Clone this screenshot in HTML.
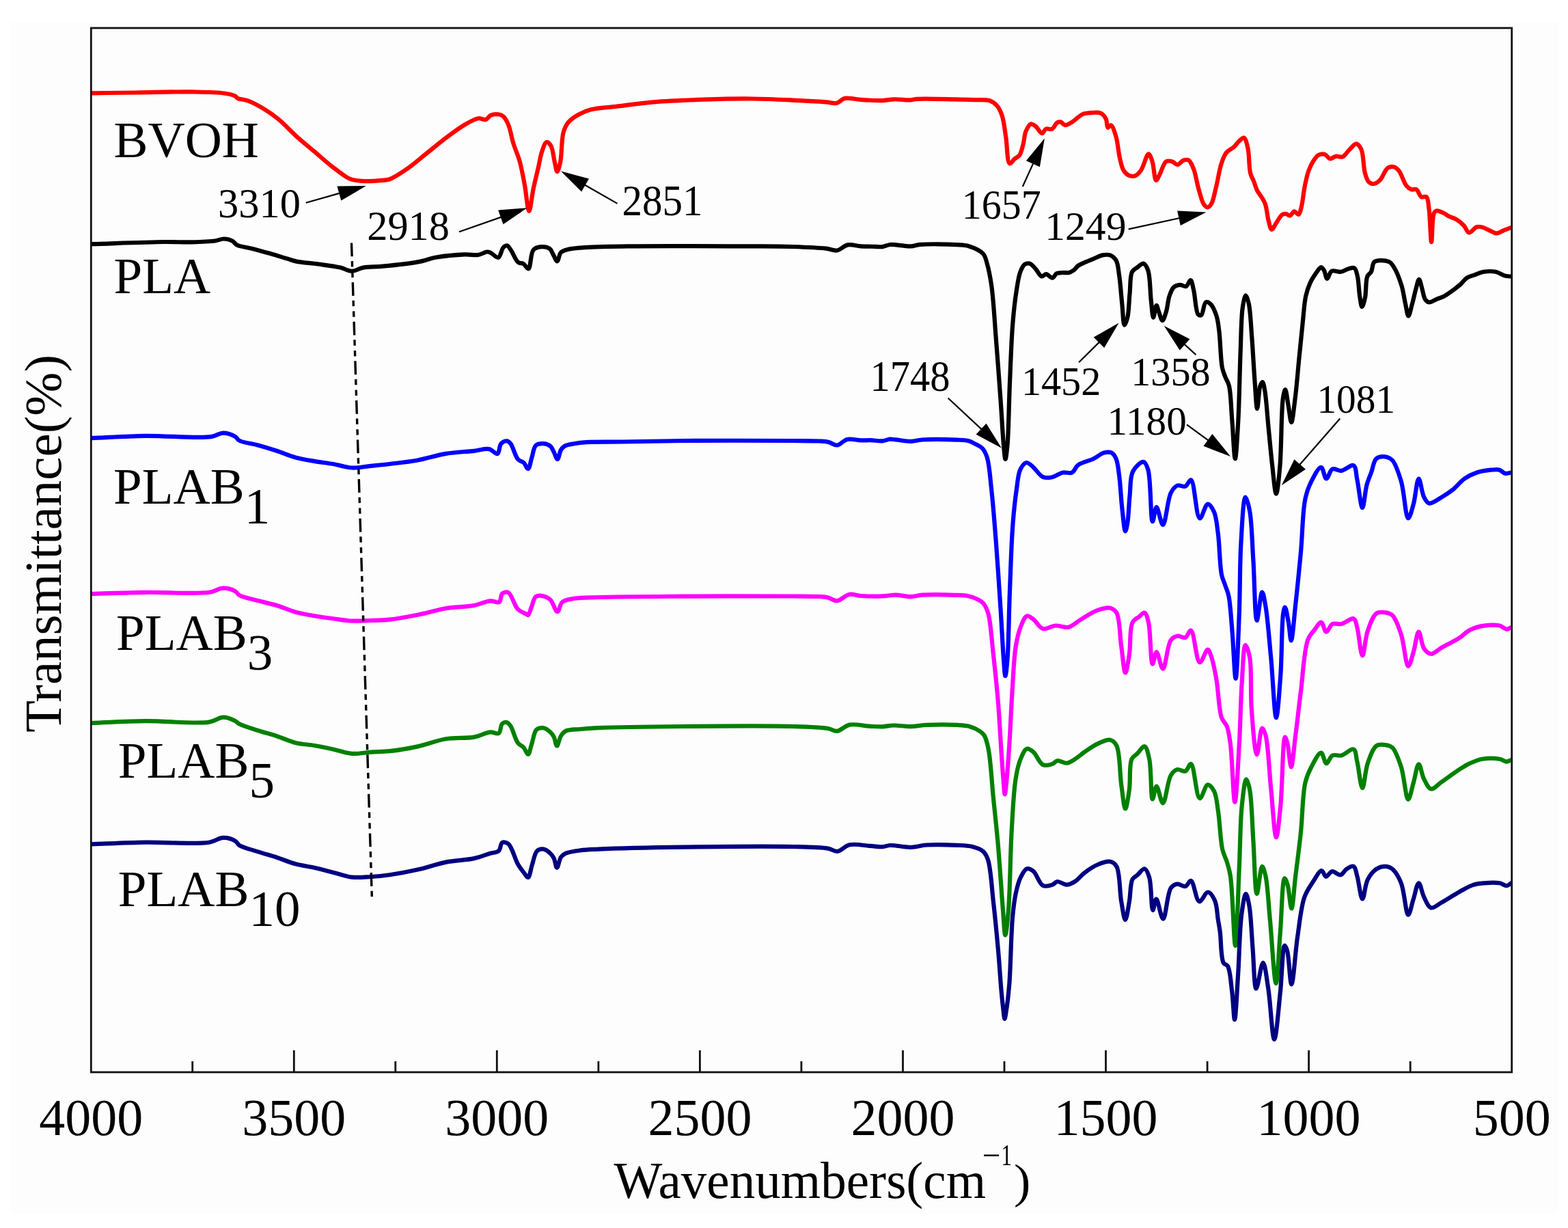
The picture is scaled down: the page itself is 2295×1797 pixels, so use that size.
<!DOCTYPE html><html><head><meta charset="utf-8"><title>FTIR spectra</title><style>html,body{margin:0;padding:0;background:#fff;overflow:hidden;}svg{display:block;}text{font-family:"Liberation Serif","Times New Roman",serif;fill:#000;}</style></head><body>
<svg width="2295" height="1797" viewBox="0 0 2295 1797">
<rect x="0" y="0" width="2295" height="1797" fill="#ffffff"/>
<rect x="16" y="32" width="2265" height="1744" fill="#fdfdfd"/>
<defs><clipPath id="pc"><rect x="133.3" y="41" width="2079.4" height="1528"/></clipPath></defs>
<g fill="none" stroke-width="6.2" stroke-linejoin="round" stroke-linecap="round" clip-path="url(#pc)">
<path d="M133.5,136.3 C155.7,136 176.7,135.8 200,135.5 C225.7,135.2 257.7,134 281,134.4 C298.8,134.7 316.5,134.8 328,136.5 C334.9,137.5 341,138.7 344.2,140.5 C345.9,141.4 345.8,142.8 347.5,143.7 C350.7,145.5 357.6,145.4 363.4,147.6 C371.1,150.5 381.3,156.2 389.1,161.1 C396.2,165.5 401.7,169.6 408.4,175.2 C416.5,182 425.3,191.8 434,199.6 C442.4,207.2 451.1,214.1 459.7,221.4 C468.3,228.7 476.7,236.5 485.4,243.2 C493.8,249.7 503.8,257.9 511,261.2 C515.5,263.3 518.8,263.6 523,264.3 C527.4,265 531.5,265.1 536.7,265.1 C543.4,265.1 553.8,264.4 560,263.8 C564.1,263.4 566.1,263.7 570.2,262.3 C577.3,259.7 588.7,252 597.7,245.8 C607.1,239.3 616,231.1 625.2,223.8 C634.4,216.5 643.4,208.8 652.7,201.8 C661.8,195 671.6,187.5 680.2,182.5 C687.2,178.5 694.3,174 700,173.2 C704.1,172.6 707.9,175.9 711,175 C713.9,174.2 715.4,169.9 718.3,168.6 C721.4,167.2 726,166.8 729.3,167.3 C732.1,167.7 734.5,168.5 736.7,170.4 C739.6,172.9 741.9,177.4 744,182.4 C747.1,189.5 748.6,201 751.4,209.9 C754.1,218.6 757.9,226.2 760.5,235.5 C763.5,246.1 765.6,258.5 767.9,270.4 C770.3,282.9 772.1,308.9 774.3,308.9 C776.4,308.9 778.4,286.8 780.7,276 C783,265.4 785.7,254.4 788,244.7 C790,236.2 791.1,227.5 793.5,220.9 C795.3,215.8 797.5,208.5 800,208 C801.9,207.6 804.7,210.6 806.4,213.5 C809.4,218.4 810.2,230.5 811.9,237.4 C813.2,242.6 814.1,251.1 815.5,251.1 C816.9,251.1 818.8,243.4 820.1,237.4 C822.4,227 821.6,204 824.7,193.4 C826.6,187 828.5,182.9 832,178.7 C835.7,174.3 841.3,170.7 846.7,167.7 C852.3,164.6 857.7,162.2 865,160.3 C875,157.7 888.2,157.4 901.7,155.8 C918.2,153.8 937.1,150.9 956.8,149.3 C979.4,147.4 1005.9,146.5 1030,145.7 C1053.6,144.9 1077.6,144.3 1100,144.5 C1120.8,144.7 1141,145.7 1160,146.6 C1177.2,147.4 1197.1,148.5 1209,149.4 C1215.8,149.9 1220.4,151.9 1225,150.8 C1229,149.8 1231.9,145.3 1235.3,144.2 C1238.1,143.3 1240.3,143.8 1243.5,143.9 C1248.1,144.1 1253.6,145.3 1260,145.8 C1268.8,146.5 1282.9,147.4 1291.7,147.1 C1298,146.9 1302,145.5 1308,145.3 C1315.4,145 1326.6,146.7 1333,146.3 C1337,146.1 1338.1,145.1 1342.6,144.8 C1353.4,144 1382.4,145 1397.6,145.3 C1408.3,145.5 1416.2,145.7 1425,146.1 C1433.1,146.4 1442.4,145.2 1448.5,147.3 C1453.1,148.9 1456.5,151.5 1459.5,155 C1462.8,158.8 1464.8,163.7 1466.8,169.7 C1469.5,178 1470.6,189.9 1472.3,200.9 C1474.2,213 1474.1,238.1 1477.8,239.4 C1479.7,240 1482.4,234.8 1484.8,232.7 C1487.2,230.7 1490.2,229.9 1492.2,227.2 C1494.9,223.4 1496.2,216.4 1497.7,210.7 C1499.3,204.8 1499.3,197.6 1501.4,192.4 C1503.2,188.1 1505.9,182.2 1508.7,181.4 C1510.9,180.8 1513.6,183.2 1516,185 C1519.1,187.3 1522.5,195.1 1525.2,195.1 C1527.3,195.1 1528.3,189.8 1530.7,188.7 C1533.2,187.6 1537.3,190 1539.9,188.7 C1542.9,187.3 1544.6,181 1547.2,179.5 C1549,178.5 1550.9,178.2 1552.7,178.6 C1554.9,179.1 1556.6,183 1559.1,183.2 C1562,183.5 1566,180.5 1569.2,178.6 C1572.5,176.6 1575.5,173.4 1578.4,171.3 C1580.9,169.5 1582.7,167.8 1585.7,166.7 C1589.6,165.3 1595.9,164.9 1600.4,164.8 C1604.3,164.7 1608.3,164.3 1611.4,165.8 C1614.4,167.3 1617,170.7 1618.7,174 C1620.5,177.6 1619.8,186.3 1621.5,186.9 C1622.7,187.3 1624.6,182.8 1626.1,183.2 C1628.7,183.8 1631.4,193.2 1633.4,199.7 C1636,208.3 1636.8,221.9 1638.9,230.9 C1640.6,237.9 1641.7,244.7 1644.4,249.2 C1646.4,252.5 1648.9,255.1 1651.7,256.5 C1654.4,257.8 1658,258.4 1660.9,257.5 C1664.2,256.4 1667.2,253.1 1670,249.2 C1674.1,243.6 1678,225.4 1681.1,225.4 C1683.2,225.4 1685,231.8 1686.6,236.4 C1689,243.4 1689.6,263.5 1692.1,263.9 C1693.7,264.2 1695.6,258.3 1697.6,254.7 C1700.4,249.7 1702.8,238.8 1706.8,236.4 C1709.4,234.8 1713.1,235.6 1715.9,236.4 C1718.6,237.2 1720.7,241.1 1723.3,241 C1726.2,240.9 1729.4,235.5 1732.4,234.5 C1734.9,233.7 1737.6,233.2 1739.8,234.5 C1742.9,236.3 1745,242.1 1747.1,247.4 C1750.1,255 1751.8,267.7 1754.4,276.7 C1756.7,284.6 1758.8,294.3 1761.8,298.7 C1763.5,301.1 1765.5,303.3 1767.3,303.3 C1769.1,303.3 1771.2,301.2 1772.8,298.7 C1776,293.8 1777.8,282.2 1780.1,273.1 C1782.7,262.8 1784.5,249 1787.5,240 C1789.7,233.4 1791.4,227.7 1794.8,223.5 C1797.7,219.8 1802.6,218.2 1805.8,215.3 C1808.6,212.7 1810.5,209.4 1813.1,207 C1815.5,204.8 1818.5,200.9 1820.5,201.5 C1823.2,202.3 1824.9,210.4 1826.4,216.7 C1828.7,226.2 1827.9,244.9 1830.1,253.4 C1831.3,258.3 1833.1,260.5 1834.7,264.4 C1836.5,268.9 1837.9,274.6 1840.2,279 C1842.3,283.1 1845.4,286.4 1847.5,290 C1849.3,293.1 1850.8,295.3 1852.1,299.2 C1854.1,305.2 1854.9,316.4 1856.7,323.1 C1858.1,328.1 1859.3,335.6 1861.3,335.9 C1863.1,336.1 1865.4,330 1867.7,326.7 C1870.5,322.8 1873.8,315.8 1876.9,313.9 C1878.7,312.8 1880.6,312.7 1882.4,313 C1884.3,313.3 1886.1,316 1887.9,315.7 C1890.1,315.3 1892.1,309.5 1894.3,309.3 C1896.4,309.1 1899.1,314.4 1900.7,313.9 C1902.5,313.4 1903.2,308.8 1904.4,304.7 C1906.5,297.2 1907.9,281.6 1909.9,271.7 C1911.6,263.6 1913,256.2 1915.4,249.7 C1917.4,244.2 1920,239 1922.7,235 C1924.9,231.7 1927.1,228.3 1930,226.8 C1932.7,225.4 1936.5,225 1939.2,225.9 C1942,226.8 1943.8,231.8 1946.5,232.3 C1949.3,232.8 1952.6,229 1955.7,228.6 C1958.7,228.2 1962.1,230.5 1964.9,229.5 C1968.3,228.3 1970.8,223.4 1974,220.3 C1977.5,217 1981.9,210.1 1985.1,210.3 C1987.9,210.5 1990.5,214.4 1992.4,218.5 C1995.9,225.8 1995.4,244.7 1997.9,253.4 C1999.5,258.8 2000.8,263.7 2003.4,266.2 C2005.4,268.1 2008.2,269.2 2010.7,269 C2013.7,268.7 2017,266.2 2019.9,263.4 C2023.9,259.5 2026.7,248.9 2030.9,246 C2033.7,244.1 2037.3,243.6 2040.1,244.2 C2042.8,244.8 2045,246.9 2047.4,249.7 C2051.3,254.3 2054.5,267.1 2058.4,271.7 C2060.8,274.5 2063.2,276.3 2065.8,277.2 C2068.1,278 2070.9,276 2073.1,277.2 C2076,278.8 2077.5,286.6 2080.4,288.2 C2082.6,289.4 2086,286.7 2087.8,288.2 C2090.5,290.4 2090.4,297.7 2091.4,304.7 C2093.2,316.7 2093.8,354.2 2095.1,354.2 C2096.3,354.2 2095.9,318.2 2098.8,312 C2099.8,309.9 2100.7,308.8 2102.4,308.4 C2104.9,307.8 2110.2,310.5 2113.4,312 C2116.2,313.3 2118,315.2 2120.8,316.6 C2124,318.3 2128.3,319.1 2131.8,321.2 C2135.7,323.5 2139.7,327.1 2142.8,330.4 C2145.7,333.5 2147.2,340.1 2150.1,340.5 C2153.2,341 2157.6,333.4 2161.1,332.2 C2163.7,331.3 2165.8,331.7 2168.5,332.2 C2171.9,332.9 2175.8,335.3 2179.5,336.8 C2183.2,338.3 2186.8,341.4 2190.5,341.4 C2194.2,341.4 2197.9,338.2 2201.5,336.8 C2204.9,335.5 2208.2,334.3 2211.6,333.1" stroke="#ff0000"/>
<path d="M133.5,357.2 C169,356.1 213,354.3 240,354 C256.5,353.8 267.1,354.7 280,354.4 C292,354.1 306,353.7 314.7,352.5 C320.1,351.7 323.3,349.5 327.5,349.5 C331.7,349.5 336.6,350.7 340,352.5 C342.8,354 343.7,356.9 346.8,358.5 C351.6,361 359.9,361.5 367.3,363.4 C376,365.6 386.3,368.5 395.5,371.1 C404.3,373.6 414.1,376.7 421.2,378.8 C426.2,380.3 428.7,381.5 434,382.6 C442.2,384.3 455.4,385 466.1,386.5 C476.8,388 489.3,389.5 498.2,391.6 C504.8,393.1 509.4,396.8 515,396.8 C520.6,396.8 525.2,392.8 531.6,391.6 C539.7,390.1 549.2,390.7 560,389.7 C574.6,388.3 597,386.1 611.4,383.4 C622.1,381.4 628.7,378.3 638.9,376.5 C651.2,374.4 668.9,372.8 680.2,372.4 C688,372.1 694.2,373.9 700,373 C704.9,372.3 709.6,368.6 713,368.5 C715.1,368.4 716.3,369.1 718.3,370 C721.4,371.4 726.3,377.6 729.3,376.8 C732.7,375.9 733.9,364.9 736.7,362.1 C738.4,360.4 740.5,359 742.2,359.3 C744.2,359.7 745.7,363 747.7,365.8 C750.9,370.3 754.8,381.2 758.7,384.1 C761,385.8 763.7,384.6 766,385.9 C768.7,387.4 771.3,393.9 773.4,393.3 C776.9,392.4 776.3,370.8 780.7,365.8 C783.5,362.5 787.8,361.6 791.7,361.2 C795.7,360.8 801.4,361.7 804.5,363.9 C807.3,365.9 808.2,370 810,373.1 C811.8,376.2 813.8,382.4 815.5,382.3 C817.5,382.2 818.1,372.3 821,369.4 C823.7,366.7 827.5,366 832,364.8 C838.3,363.2 846,362.8 855.9,362.1 C872.1,361 893.2,360.7 920,360.3 C964.8,359.7 1056.1,360.2 1100,360.4 C1125.4,360.5 1141,360.4 1160,361 C1177.2,361.6 1197.2,362.3 1209,363.7 C1215.8,364.5 1219.8,367.3 1225,366.5 C1230.4,365.7 1235.1,359.5 1240.8,358.4 C1246.7,357.3 1253.5,359.9 1260,360.3 C1266.8,360.7 1274.9,360.7 1280.7,360.8 C1284.9,360.9 1288.1,361.6 1291.7,361.1 C1295.4,360.6 1298.1,358.5 1302.7,358 C1310.2,357.3 1324.9,360.8 1333,360.4 C1338.5,360.1 1340.6,358.4 1346.7,357.9 C1358.7,356.8 1387.3,357.3 1400.3,358.1 C1407.8,358.6 1412,358.3 1418,360.2 C1424.9,362.4 1434.4,366.3 1438.9,371.3 C1442.6,375.4 1443,380.1 1444.8,386.1 C1447.3,394.6 1449.3,404.9 1451.2,417.9 C1454.1,438.1 1455.7,468.9 1457.8,495.7 C1460.1,524.4 1462.5,557.2 1464.5,584.7 C1466.2,608.6 1467.5,635.6 1469,651.5 C1469.8,660.3 1470.6,672 1471.5,672 C1472.4,672 1473.6,660.8 1474.5,651.5 C1476.3,632.3 1476.6,592.2 1477.9,562.5 C1479.2,532.8 1480.2,498.7 1482.3,473.5 C1483.8,454.7 1485.7,438.3 1487.9,424.5 C1489.5,414.2 1490.7,404.6 1493.4,397.8 C1495.2,393.1 1497.4,388.5 1500.1,386.7 C1502.1,385.4 1504.6,385 1506.8,385.6 C1509.8,386.4 1512.9,390.4 1515.7,393.4 C1518.8,396.7 1521.6,403.8 1524.6,404.5 C1526.8,405 1528.9,401.1 1531.3,401.2 C1534.1,401.3 1537.6,407 1540.2,406.7 C1542.7,406.4 1544.2,401.4 1546.8,400.1 C1549.4,398.8 1552.7,399.2 1555.7,399 C1558.7,398.8 1561.9,399.6 1564.6,399 C1567.1,398.4 1569.2,397.1 1571.3,395.6 C1573.7,393.9 1575.3,390.8 1578,388.9 C1581.1,386.7 1585.4,385.1 1589.1,383.4 C1592.8,381.7 1596.3,380.5 1600.2,378.9 C1604.5,377.2 1609.3,374.3 1613.6,373.4 C1617.4,372.7 1621.4,372.2 1624.7,373.4 C1628.1,374.7 1631.4,377.5 1633.6,381.2 C1636.5,386.2 1636.7,393.9 1638,402.3 C1639.9,414.4 1641.1,433.6 1642.5,446.8 C1643.6,457.5 1643.9,475.4 1645.8,475.7 C1647,475.9 1649.1,469.5 1650.3,464.6 C1652.3,456.2 1652.4,440.5 1653.6,429 C1654.7,418.3 1653.7,404 1657,397.8 C1658.9,394.3 1662,393.2 1664.7,391.2 C1667.5,389.1 1671.1,385.1 1673.6,385.6 C1676.3,386.2 1678.6,390.8 1680.3,395.6 C1683.6,404.9 1683.3,427.5 1684.8,440.1 C1685.9,449.5 1686.7,464.5 1688.1,464.6 C1689.3,464.7 1691.1,446.9 1692.6,446.8 C1693.7,446.7 1694.6,452.4 1695.9,455.7 C1697.5,459.7 1699.6,469 1701.4,469 C1703.3,469 1705.4,460.8 1707,455.7 C1709,449.3 1709.3,439.8 1711.5,433.4 C1713.3,428.3 1715.1,422.8 1718.1,420.1 C1720.5,417.9 1724,417 1727,416.8 C1729.9,416.6 1733.4,419.9 1735.9,419 C1738.7,418 1740.8,409.8 1742.6,410.1 C1744.7,410.5 1745.6,418.6 1747.1,424.5 C1749.4,433.7 1750,456.2 1753.7,460.1 C1755,461.5 1756.8,461.9 1758.2,461.2 C1761,459.7 1761.7,443.8 1764.9,442.3 C1766.8,441.4 1769.5,442.8 1771.5,444.6 C1774.9,447.6 1778.3,455.6 1780.4,462 C1782.7,468.9 1783.2,475.4 1784.4,484.6 C1786.2,498.6 1786.5,526.2 1788.9,538 C1790.1,544 1791.6,546.9 1793.3,551.3 C1795,555.8 1797.4,558.6 1798.9,564.6 C1801.7,576 1801.9,598.4 1803.4,615.8 C1804.9,633.9 1806.3,671.4 1807.8,671.4 C1809.3,671.4 1811.1,637.1 1812.3,615.8 C1813.9,587.3 1814.4,545.7 1815.6,515.7 C1816.6,491.2 1816.6,463.7 1818.9,449 C1820.1,441.5 1821.8,432.4 1823.4,432.3 C1824.8,432.2 1826.6,439 1827.8,444.5 C1830.2,455.3 1830.9,475.9 1832.3,493.5 C1833.9,514 1835.2,541.1 1836.7,560.2 C1837.8,574.6 1838.7,598 1840.1,598 C1841.4,598 1842.3,570.9 1844.5,564.6 C1845.5,561.8 1846.8,559 1847.8,559.1 C1849.2,559.3 1850.2,565.7 1851.2,571.3 C1853.4,583.1 1854.9,608.4 1856.7,626.9 C1858.6,645.4 1860.3,665.5 1862.3,682.5 C1864,697 1866,722.6 1867.9,722.6 C1869.7,722.6 1871.9,698.9 1873.4,682.5 C1875.7,656.7 1875.2,599.6 1877.9,582.4 C1878.9,576.3 1880.1,570.2 1881.2,570.2 C1882.7,570.3 1884.2,585.7 1885.7,593.6 C1887.2,601.6 1888.6,618 1890.1,618 C1891.9,618 1894,595.6 1895.7,582.4 C1897.8,566 1899.4,545.3 1901.2,526.8 C1903.1,508.3 1905,487.9 1906.8,471.2 C1908.3,457.4 1908.9,443.9 1911.2,433.4 C1912.9,425.6 1915.1,419.4 1917.9,413.4 C1920.4,408 1923.9,402.9 1926.8,398.9 C1929.1,395.8 1931.5,391.2 1933.5,391.1 C1935.1,391 1936.6,393.6 1937.9,395.6 C1939.8,398.5 1940.5,407.6 1942.4,407.8 C1944.3,408 1945.8,398.4 1949.1,396.7 C1952.4,395 1958.2,398.4 1962.4,397.8 C1966.3,397.2 1969.9,394.3 1973.5,393.4 C1976.6,392.6 1980.2,391 1982.4,392.3 C1985,393.9 1985.7,399.5 1986.9,404.5 C1988.7,412 1988.9,425.3 1990.2,433.4 C1991.2,439.4 1992.1,448.9 1993.5,449 C1994.8,449.1 1996.8,441.1 1998,435.6 C1999.8,427.5 1998.6,410.8 2001.3,404.5 C2002.7,401.1 2005.4,400.6 2006.9,397.8 C2008.9,394.1 2008.5,386.1 2011.3,383.4 C2013.5,381.3 2016.9,381.2 2020.2,381.1 C2024.2,380.9 2030.1,381.5 2033.6,383.4 C2036.6,385.1 2038.1,387.5 2040.3,391.1 C2044,397.1 2048.6,408.8 2051.4,417.8 C2054.1,426.6 2055.2,436.5 2057,444.5 C2058.5,451 2059.7,462.2 2061.4,462.3 C2063.1,462.4 2065.2,450.8 2067,444.5 C2069,437.5 2070.6,428.7 2072.5,422.3 C2074,417.2 2075.5,408.9 2077,408.9 C2078.5,408.9 2080,417.7 2081.4,422.3 C2082.9,427.3 2083.6,434.5 2085.9,437.9 C2087.4,440.1 2089.1,442 2091.4,442.3 C2094.4,442.8 2098.9,439.4 2102.6,437.9 C2106.3,436.4 2109.9,435.4 2113.7,433.4 C2118,431.1 2122.8,427.6 2127,424.5 C2130.9,421.6 2134.7,418.7 2138.1,415.6 C2141.3,412.7 2143.6,408.9 2147,406.7 C2150.3,404.5 2154.3,403.7 2158.2,402.3 C2162.4,400.8 2166.7,398.6 2171.5,397.8 C2176.9,396.9 2183.9,396.7 2189.3,397.8 C2194.2,398.8 2198.5,402.3 2202.6,403.4 C2205.8,404.3 2208.5,404.1 2211.5,404.5" stroke="#000000"/>
<path d="M133.5,641.1 C159.8,640 184.9,638.2 212.5,637.8 C243,637.4 289.6,641.9 308.8,639.1 C317.3,637.9 320.7,633.6 326.7,633.6 C332.7,633.6 340.5,636.7 344.6,639.1 C347.2,640.7 347.2,643 350.1,644.6 C355.5,647.7 368.5,649 377.6,651.5 C386.8,654 396,656.8 405.1,659.8 C414.3,662.8 423.3,666.9 432.6,669.4 C441.7,671.9 450.9,673.3 460.1,674.9 C469.2,676.5 478.5,677.4 487.6,679 C496.8,680.6 505.9,684 515.1,684.5 C524.2,685 533.4,682.7 542.6,681.8 C551.8,680.9 560.1,680.2 570.2,679 C582.6,677.5 597.7,676 611.4,673.5 C625.2,671 638.9,666.2 652.7,663.9 C666.4,661.6 682.4,661.1 694,659.8 C702.4,658.9 709.7,655.9 715.8,657.1 C720.7,658.1 725.2,665.2 728.1,664.1 C731.2,663 730.5,652.3 733.4,649.2 C735.7,646.8 739.7,645 742.2,645.3 C744.2,645.5 745.6,647 747.4,649.2 C750.9,653.5 753.8,667.3 758,672 C760.6,675 764.2,675 766.7,677.3 C769.2,679.7 771.1,686.4 772.9,686.1 C775.1,685.8 776.4,675.8 778.2,670.3 C780.2,664.4 780.7,655.1 784.3,651.8 C787,649.3 791.4,649.1 794.9,649.2 C798.4,649.3 802.7,650.6 805.4,652.7 C808,654.7 809,658.4 810.7,661.5 C812.5,664.8 814.2,672.1 815.9,672 C817.8,671.9 819,661.4 821.2,658 C822.8,655.6 824.1,654.1 826.5,652.7 C829.9,650.8 835.5,650.1 840.5,649.2 C846,648.2 850.6,647.6 858.1,647.1 C871,646.3 890.9,646.8 910.8,646.5 C936.6,646.1 966,645.3 1000,645 C1045.6,644.6 1124.4,644.8 1160,645 C1177.8,645.1 1190.3,644.9 1200,645.5 C1205.5,645.9 1208.8,646 1213,647 C1217.2,648 1221.1,651.9 1225.3,651.5 C1230.1,651.1 1234.5,644.2 1240,642.9 C1246,641.5 1253.9,644.2 1260,644.4 C1265.1,644.6 1269.1,644.1 1274,644.2 C1279.5,644.3 1286.4,645.7 1291.5,645.3 C1295.6,645 1299.1,643 1302.5,642.7 C1305.5,642.5 1307.5,643.1 1311,643.4 C1316.7,644 1326.6,646 1333.5,645.9 C1339.3,645.8 1342.7,644 1349.5,643.5 C1361.6,642.6 1387.4,643 1400,643.6 C1407.5,643.9 1413,643.8 1418,645.2 C1421.9,646.3 1424.7,648.2 1428,650 C1431.3,651.8 1435.1,653.1 1437.8,656 C1440.9,659.4 1442.9,663.6 1444.8,669.7 C1448.1,680.2 1449.1,697.8 1451,715 C1453.5,737.5 1455.7,765.5 1457.8,793 C1460.2,823.8 1462.5,860.6 1464.5,891 C1466.2,917.4 1467.6,947.1 1469,965 C1469.8,975.3 1470.5,989.2 1471.4,989.2 C1472.3,989.2 1473.6,975.8 1474.5,965 C1476.3,943.3 1476.6,899.7 1477.9,867 C1479.2,834.3 1480.2,796.7 1482.3,769 C1483.8,748.6 1485.7,731 1487.9,716 C1489.5,704.8 1490,693.8 1493.4,687 C1495.7,682.4 1499.1,677.4 1502.3,677 C1505.1,676.6 1508,680 1511.2,682.6 C1515.9,686.3 1521.3,695.9 1526.8,698.2 C1531.1,700 1535.7,699.1 1540.2,698.2 C1545.3,697.1 1550.6,692.6 1555.7,691.5 C1560.2,690.6 1565.4,693.3 1569.1,691.5 C1572.9,689.7 1573.8,683.5 1578,680.4 C1583.4,676.4 1593.5,674.7 1600.2,671.5 C1606,668.7 1610.9,663.9 1615.8,662.6 C1619.7,661.6 1623.9,661.1 1626.9,662.6 C1629.9,664.1 1631.9,667.6 1633.6,671.5 C1636.1,677.3 1636.7,685.7 1638,695 C1639.9,708.5 1640.8,730.2 1642.5,745 C1643.9,757 1645.5,777.2 1647.1,777.3 C1648.1,777.4 1649.4,770.3 1650.3,765 C1651.9,755.5 1652.2,737.9 1653.6,725 C1654.9,712.9 1653.7,698.5 1658.1,690 C1661.5,683.4 1669.7,675.3 1673.6,675.9 C1676.6,676.3 1678.5,681.3 1680.3,687 C1684.8,700.8 1683.8,762.9 1686.9,763.2 C1688.6,763.4 1690.4,742.3 1692.7,742.2 C1695.3,742.1 1699.1,768.1 1702.1,767.9 C1706.1,767.7 1708.7,730.8 1713.8,721.1 C1716.6,715.8 1719.5,712 1723.2,710.5 C1726.6,709.2 1731.6,713 1734.9,711.7 C1738.3,710.4 1740.6,701.7 1743.1,702.3 C1748.5,703.6 1750.6,757.7 1756,758.5 C1759.5,759 1763.8,737.8 1767.7,737.5 C1770.8,737.2 1774.6,743.9 1777,749.2 C1780.5,757 1781.2,769.2 1782.9,781.7 C1785.1,798.5 1785.2,827.6 1788,840.9 C1789.4,847.9 1791.5,851.2 1793.2,856.4 C1794.9,861.5 1796.9,865.1 1798.3,871.8 C1800.9,883.9 1801.9,904.9 1803.5,923.4 C1805.4,944.9 1807,993 1808.6,993 C1810.5,993 1812.5,930 1813.8,897.6 C1815.1,863.9 1814.6,825.2 1816.4,794.6 C1817.9,769.8 1819.6,727.9 1822.8,727.6 C1824.6,727.4 1827.5,739.1 1829.2,748.2 C1832.3,764.8 1832.7,795.1 1834.4,820.3 C1836.2,848.1 1836.7,907.7 1839.6,907.9 C1841.6,908 1844.8,866.8 1847.3,866.7 C1849.1,866.6 1850.8,878.2 1852.4,887.3 C1855.4,904.4 1857.7,936 1860.2,962 C1862.9,990.2 1865.4,1050.5 1867.9,1050.5 C1870,1050.5 1872.6,1010.6 1874.3,987.8 C1876.3,960.5 1875.8,912 1878.2,897.6 C1879,893 1879.8,888.6 1880.8,888.6 C1882.3,888.6 1884.4,902.8 1885.9,910.5 C1887.5,919 1888.4,937.5 1889.8,937.5 C1891.7,937.5 1894.1,904 1896.2,884.7 C1898.8,861.4 1901.6,833.2 1904,807.4 C1906.4,781.7 1906.4,748.9 1910.4,730.2 C1912.8,719.1 1915.4,712.3 1919.4,704.4 C1923.2,696.9 1929.8,683.5 1933.6,683.8 C1936.9,684.1 1938.4,700.3 1941.3,700.5 C1944,700.7 1946.3,688.1 1950.3,686.4 C1953.8,684.9 1958.6,689.4 1963.2,688.9 C1968.8,688.3 1977.3,679.3 1981.2,681.2 C1985.2,683.2 1984.6,693.7 1986.4,701.8 C1988.9,713.1 1991.6,743 1994.1,743 C1996.3,743 1997.9,719 2000.5,709.6 C2002.4,702.6 2004.7,697.7 2007,691.5 C2009.4,684.8 2010.4,674.5 2014.7,670.9 C2018,668.1 2023.6,667.8 2027.6,668.3 C2031.3,668.8 2034.8,670.2 2037.9,673.5 C2043.2,679.2 2047.2,692.5 2050.8,704.4 C2055.4,719.7 2057.3,758.2 2061.1,758.5 C2063.5,758.7 2066.5,745.9 2068.8,737.9 C2071.8,727.4 2073.7,700.6 2076.5,700.5 C2078.9,700.4 2080.9,721.2 2084.3,727.6 C2086.5,731.7 2088.5,735.9 2092,736.6 C2096.5,737.5 2104.3,730.9 2110,727.6 C2115.5,724.4 2120.3,721.4 2125.5,717.3 C2131.5,712.6 2137.2,704.9 2143.5,700.5 C2149.2,696.5 2155.2,693.6 2161.6,691.5 C2168.1,689.3 2176.1,688.3 2182.2,687.7 C2186.9,687.3 2191.4,686.6 2195,687.7 C2198.1,688.6 2200,692.2 2202.8,692.8 C2205.6,693.4 2208.8,691.9 2211.8,691.5" stroke="#0000ff"/>
<path d="M133.5,869 C159.8,868.3 185,867.2 212.5,866.8 C242.4,866.4 286.3,869.7 306.1,866.8 C315.6,865.4 320.1,860.8 326.7,860.7 C332.9,860.6 340.5,863.1 344.6,865.4 C347.2,866.9 347.3,869.2 350.1,870.9 C355.6,874.2 368.4,876.6 377.6,879.1 C386.7,881.6 396,883.3 405.1,886 C414.3,888.8 423.3,893.2 432.6,895.7 C441.7,898.2 450.9,899.6 460.1,901.2 C469.2,902.8 478.4,904.1 487.6,905.3 C496.8,906.5 505.9,908.2 515.1,908.6 C524.3,909 533.4,908.3 542.6,908 C551.8,907.7 560.1,907.8 570.2,906.7 C582.6,905.4 597.7,902.5 611.4,899.8 C625.2,897 638.9,892.5 652.7,890.2 C666.4,887.9 682.2,888.3 694,886 C703,884.3 710.8,879.8 717.6,879.3 C722.6,878.9 727.8,882.8 730.7,881 C733.6,879.2 732.5,870.9 735.1,868.7 C737.3,866.9 741.1,865.7 743.9,867 C748.9,869.3 752.7,886.3 758,891.6 C761.8,895.4 767.7,897.2 770.3,898.6 C771.5,899.3 772.1,900.3 773,900 C774.8,899.3 776.2,892.2 778,888 C780,883.3 781,875.5 784.3,873.1 C787,871.2 791.5,871.6 794.9,872.3 C798.5,873 802.3,874.6 805.4,877.5 C809.5,881.3 812.8,895.2 815.9,895.1 C818.6,895 819.2,884.2 823,881 C827.1,877.5 833.6,877 840.5,875.8 C850.1,874.2 860.3,874.5 875.6,874 C904.4,873.1 955.9,872.9 1000,872.6 C1050,872.3 1124.4,872.3 1160,872.5 C1177.8,872.6 1190.6,872.4 1200,873 C1205.2,873.4 1208,873.5 1212,874.5 C1216.3,875.5 1220.4,879.5 1225,879.2 C1230.7,878.8 1237.3,870.8 1243.5,869.8 C1249,868.9 1253.6,871.5 1260,872 C1268.8,872.6 1282.4,872.8 1291.7,872.4 C1298.9,872.1 1304.4,870.5 1311,870.6 C1318.1,870.7 1326.2,873.2 1333,873.1 C1338.9,873 1342.5,871.2 1349.5,870.7 C1361.3,869.9 1385,870.3 1397.6,870.8 C1405.8,871.1 1411.5,870.8 1418,872.4 C1424.3,873.9 1431.9,877.1 1436,880 C1438.6,881.9 1439.9,883.4 1441.5,886 C1443.6,889.4 1445.2,893 1446.8,899.1 C1450,911.5 1451.6,937.2 1453.9,957.6 C1456.4,979.9 1459,1004.3 1460.9,1027.9 C1462.9,1051.8 1464.2,1079.5 1465.6,1100 C1466.7,1115.3 1467.5,1128.6 1468.5,1140 C1469.2,1148.5 1469.9,1162.4 1470.7,1162.4 C1471.5,1162.4 1472.6,1149 1473.5,1140 C1474.8,1126.6 1476.1,1108.9 1477.3,1090 C1478.9,1065.3 1480.3,1030.2 1482,1004.4 C1483.4,983 1484.1,961.8 1486.7,945.9 C1488.5,934.7 1490.5,925.7 1493.7,917.8 C1496.3,911.4 1499.3,902.5 1503,901.4 C1505.8,900.6 1509.1,903.8 1512.4,906.1 C1516.9,909.3 1521,918.6 1526.5,920.1 C1531.9,921.6 1538.9,915.9 1545.2,915.5 C1551.4,915.1 1557.9,919.1 1563.9,917.8 C1570.4,916.4 1576,910 1582.7,906.1 C1590,901.8 1598.5,895.9 1606.1,893.2 C1612.5,890.9 1619.8,888.5 1624.8,889.7 C1628.7,890.6 1631.7,892.5 1634.2,896.7 C1639.3,905.3 1638.9,930.5 1641.2,945.9 C1643.2,959.6 1645,984.4 1647.1,984.5 C1648.9,984.6 1651.3,967.9 1652.9,957.6 C1655,944.2 1653.1,919.6 1657.6,910.8 C1659.9,906.3 1663.9,905 1667,902.6 C1669.8,900.4 1673,896.1 1675.2,896.7 C1677.9,897.5 1679.4,904.3 1681,910.8 C1684.2,923.8 1683.9,971.4 1686.9,971.7 C1688.5,971.9 1690.4,954.2 1692.7,954.1 C1695.4,954 1699,978.8 1702.1,978.7 C1706.1,978.5 1708.3,943.8 1713.8,936.5 C1716.5,932.9 1719.8,931.3 1723.2,930.7 C1726.8,930.1 1731.6,934.2 1734.9,933 C1738.3,931.7 1740.5,922 1743.1,922.5 C1748,923.5 1750.8,968.5 1756,969.3 C1759.5,969.8 1764.7,950.5 1767.7,950.6 C1769.8,950.7 1771,955.8 1772.6,960 C1775.4,967.6 1778,980.8 1780.3,993.5 C1783.3,1009.9 1783.8,1038.3 1788,1050.2 C1790.2,1056.3 1793.8,1057.8 1795.8,1063 C1798.5,1069.9 1799.4,1077.7 1800.9,1088.8 C1803.6,1108.9 1805.2,1173.8 1807.4,1173.8 C1809.5,1173.8 1812.1,1117.6 1813.8,1088.8 C1815.6,1059.2 1815.9,1024.9 1817.7,998.6 C1819.1,978.1 1819.9,944.4 1822.8,944 C1824.5,943.8 1827.6,953.8 1829.2,962 C1832.3,978.3 1830,1013 1831.8,1037.3 C1833.5,1060.3 1836.6,1104.2 1839.6,1104.3 C1841.9,1104.4 1844.4,1066 1847.3,1065.6 C1848.9,1065.4 1850.9,1070.7 1852.4,1075.9 C1856.3,1089.5 1857.6,1127.9 1860.2,1153.2 C1862.7,1177.7 1865.3,1225.3 1867.9,1225.3 C1870,1225.3 1872.4,1197.4 1874.3,1179 C1877,1152 1877.4,1079 1880.8,1078.5 C1881.9,1078.3 1883.4,1084.3 1884.6,1088.8 C1886.6,1096.7 1888,1122.3 1889.8,1122.3 C1891.9,1122.3 1894,1092.6 1896.2,1075.9 C1898.8,1056.2 1901.1,1033.8 1904,1011.5 C1907.1,987.4 1908.5,951.5 1914.3,936.2 C1917.2,928.7 1921.1,925.3 1924.6,920.8 C1927.6,916.9 1930.9,910.2 1933.6,910.5 C1936.5,910.8 1938.4,924.4 1941.3,924.6 C1944,924.8 1946.5,915 1950.3,913.1 C1953.9,911.4 1958.6,914 1963.2,913.1 C1968.8,911.9 1977.3,903.7 1981.2,905.3 C1984.5,906.6 1984.8,912.6 1986.4,918.2 C1989.2,928 1991.4,959.4 1994.1,959.4 C1996.6,959.4 1998,934.2 2001.8,923.4 C2005.1,913.9 2009.1,901.4 2014.7,897.6 C2018.4,895 2023.6,895.8 2027.6,896.3 C2031.3,896.8 2034.8,897.3 2037.9,900.2 C2043.1,905.1 2047.2,917.7 2050.8,928.5 C2055.3,941.9 2057.5,974.6 2061.1,974.9 C2063.6,975.1 2066.4,961.9 2068.8,954.3 C2071.6,945.4 2073.8,924.7 2076.5,924.6 C2079,924.5 2080.4,943.6 2084.3,949.1 C2087.1,953 2090.7,956.6 2094.6,956.8 C2099.1,957.1 2104.2,951.1 2110,947.8 C2117.5,943.6 2128.4,938.4 2135.8,933.7 C2141.8,929.9 2145.4,925.1 2151.2,922.1 C2157.4,918.9 2164.7,916.7 2171.9,915.6 C2179.3,914.5 2189,914.2 2195,915.6 C2199.3,916.6 2202.2,920.7 2205.3,920.8 C2207.7,920.9 2209.6,919.1 2211.8,918.2" stroke="#ff00ff"/>
<path d="M133.5,1058 C159.8,1057.1 185,1055.5 212.5,1055.2 C242.4,1054.9 286.3,1059.7 306.1,1056.6 C315.6,1055.1 320.1,1049.8 326.7,1049.7 C332.9,1049.6 340.5,1053.1 344.6,1055.2 C347.1,1056.5 347.4,1057.9 350.1,1059.3 C355.6,1062.3 368.4,1066 377.6,1069 C386.7,1072 396,1074.2 405.1,1077.2 C414.3,1080.2 423.3,1084.6 432.6,1086.9 C441.7,1089.2 451,1089.4 460.1,1091 C469.3,1092.6 478.4,1094.5 487.6,1096.5 C496.8,1098.5 505.9,1102.1 515.1,1102.8 C524.2,1103.5 533.4,1101.2 542.6,1100.6 C551.8,1100 560.1,1100.3 570.2,1099.2 C582.6,1097.9 597.7,1095.4 611.4,1092.4 C625.2,1089.4 638.8,1083.6 652.7,1081.3 C666.4,1079 682.3,1080.8 694,1078.6 C703.1,1076.9 711,1071.8 717.6,1071.3 C722.3,1070.9 727,1074.8 729.9,1073.1 C733.1,1071.2 732.4,1061.4 735.1,1059 C737,1057.3 740.2,1056.7 742.2,1057.3 C744.3,1057.9 745.6,1060 747.4,1062.6 C750.8,1067.6 753.9,1081.7 758,1087.1 C760.7,1090.6 764.2,1091.4 766.7,1094.2 C769.2,1097 771.1,1104 772.9,1103.8 C775,1103.6 776.3,1094.3 778.2,1088.9 C780.4,1082.5 781.4,1071.4 785.2,1067.8 C787.8,1065.4 791.7,1064.8 794.9,1065.2 C798.4,1065.7 802.7,1068.9 805.4,1071.3 C807.7,1073.4 809.2,1075.5 810.7,1078.4 C812.6,1082 813.4,1091.4 815.1,1091.5 C816.9,1091.6 818.6,1080.5 821.2,1076.6 C823.2,1073.6 824.9,1071.2 828.2,1069.6 C833.1,1067.2 841.9,1067.7 849.3,1067 C857.6,1066.2 863.6,1065.7 875.7,1065.2 C901.8,1064.1 956,1063.4 1000,1063 C1050,1062.6 1121.3,1061.9 1160,1063 C1182.1,1063.6 1200.5,1064 1212,1066 C1217.9,1067 1220.4,1070.3 1225,1069.9 C1230.7,1069.4 1236.4,1062 1243.5,1060.6 C1252.2,1058.9 1265,1062.4 1273.8,1062.8 C1280.5,1063.1 1285.9,1063.5 1291.7,1063.3 C1297.3,1063.1 1302.1,1061.6 1308,1061.5 C1315.1,1061.3 1323.6,1063.2 1331.6,1063.1 C1339.7,1063 1346.9,1061.3 1356.3,1060.9 C1368.9,1060.3 1388.9,1060.3 1400.3,1060.9 C1407.5,1061.3 1412.4,1061.3 1418,1062.8 C1423.6,1064.3 1430,1067.4 1434,1070 C1436.8,1071.9 1438.7,1073.1 1440.5,1076 C1443.4,1080.6 1445,1087.7 1446.8,1096.8 C1450.1,1113.2 1451.5,1143.7 1453.9,1167.1 C1456.2,1190.5 1458.7,1212.3 1460.9,1237.4 C1463.4,1266.4 1465.9,1306.8 1467.9,1331 C1469.2,1346.3 1470,1368.5 1471.4,1368.5 C1472.8,1368.5 1474.8,1347 1476.1,1331 C1478.4,1302.8 1478.7,1248.6 1480.8,1213.9 C1482.4,1186.1 1483.6,1157.9 1486.7,1139 C1488.6,1127.3 1490.5,1118.6 1493.7,1110.9 C1496.2,1104.8 1499.3,1096.7 1503,1095.7 C1505.8,1094.9 1509.3,1097.8 1512.4,1100.4 C1517.1,1104.3 1521.1,1116.7 1526.5,1119.1 C1530.7,1121 1536.8,1119.2 1540.5,1117.9 C1543.4,1116.9 1544.6,1113.7 1547.5,1113.2 C1551.3,1112.5 1557.2,1117.2 1561.6,1116.7 C1565.8,1116.2 1569.3,1113.3 1573.3,1110.9 C1577.9,1108.1 1582.3,1103.9 1587.4,1100.4 C1593.1,1096.5 1599.7,1091.6 1606.1,1088.6 C1612.2,1085.8 1619.9,1081.8 1624.8,1082.8 C1628.8,1083.6 1631.7,1086.3 1634.2,1091 C1639.5,1101.1 1638.8,1131.6 1641.2,1148.4 C1643.1,1161.6 1645,1183.5 1647.1,1183.5 C1649,1183.5 1651.4,1165.9 1652.9,1155.4 C1654.8,1142.3 1652.5,1119.5 1656.4,1110.9 C1658.4,1106.5 1661.7,1105.6 1664.6,1102.7 C1667.9,1099.4 1672.4,1091.6 1675.2,1092.2 C1678.5,1092.9 1680.4,1102.8 1682.2,1110.9 C1685.3,1124.8 1684.2,1169.1 1686.9,1169.4 C1688.5,1169.6 1690.4,1150.8 1692.7,1150.7 C1695.4,1150.6 1699,1175.4 1702.1,1175.3 C1706,1175.1 1708.7,1142.4 1713.8,1134.3 C1716.6,1129.9 1719.6,1127 1723.2,1126.1 C1726.7,1125.2 1731.6,1129.7 1734.9,1128.5 C1738.4,1127.2 1740.6,1117.4 1743.1,1117.9 C1748.1,1118.9 1750.8,1167.6 1756,1168.3 C1759.5,1168.8 1763.7,1148.9 1767.7,1148.4 C1770.7,1148 1774.6,1153.3 1777,1157.7 C1780.6,1164.4 1781.1,1175.4 1782.9,1186.7 C1785.4,1202.4 1786.1,1229.9 1789.3,1243.4 C1791.1,1251.2 1793.9,1255.1 1795.8,1261.4 C1797.8,1268 1799.4,1272.4 1800.9,1282 C1804.2,1303 1806,1384 1808.1,1384 C1810.3,1384 1812.1,1305.1 1813.8,1269.1 C1815.3,1237.2 1815.2,1202.7 1817.7,1179 C1819.3,1163.4 1821.7,1140.5 1824.1,1140.3 C1825.7,1140.2 1827.8,1148.6 1829.2,1155.8 C1832.2,1171.3 1832.7,1205.4 1834.4,1230.5 C1836.1,1256 1836.8,1307.6 1839.6,1307.8 C1841.6,1307.9 1844.6,1268 1847.3,1267.8 C1848.9,1267.7 1850.9,1275.4 1852.4,1282 C1855.5,1295.6 1856.6,1323 1858.9,1346.4 C1861.6,1374.5 1865,1439.1 1867.6,1439.1 C1869.9,1439.1 1871.8,1388.9 1873.9,1363.5 C1876,1337.7 1876.7,1285.9 1880.2,1285.3 C1881.5,1285.1 1883.3,1290.6 1884.6,1294.9 C1887,1302.8 1888.5,1329.5 1890.3,1329.5 C1892.4,1329.5 1894.1,1299 1896.2,1282 C1898.6,1262.2 1901.7,1239.7 1904,1217.6 C1906.4,1194.3 1906.4,1162.7 1910.4,1145.5 C1912.8,1135.4 1915.5,1129.6 1919.4,1122.3 C1923.3,1115 1929.8,1101.4 1933.6,1101.7 C1936.8,1101.9 1938.4,1116.8 1941.3,1117.1 C1944,1117.4 1946.5,1107.4 1950.3,1105.5 C1953.9,1103.7 1958.7,1106.6 1963.2,1105.5 C1968.9,1104.2 1977.3,1094.8 1981.2,1096.5 C1984.9,1098.1 1984.6,1107.4 1986.4,1114.6 C1988.9,1125 1991.5,1153.2 1994.1,1153.2 C1996.6,1153.2 1998,1127.9 2001.8,1117.1 C2005.1,1107.6 2009.1,1095.2 2014.7,1091.4 C2018.4,1088.8 2023.6,1089.6 2027.6,1090.1 C2031.3,1090.6 2034.8,1091.1 2037.9,1094 C2043.1,1098.9 2047.2,1111.4 2050.8,1122.3 C2055.3,1135.9 2057.6,1169.7 2061.1,1169.9 C2063.6,1170 2066.3,1153.9 2068.8,1145.5 C2071.4,1136.7 2073.8,1118.5 2076.5,1118.4 C2079,1118.3 2081,1134 2084.3,1140.3 C2087.2,1145.8 2090.4,1153.7 2094.6,1154.5 C2098.9,1155.3 2104.2,1148.2 2110,1144.2 C2117.5,1139 2128.2,1131 2135.8,1126.1 C2141.5,1122.4 2145.7,1119.6 2151.2,1117.1 C2156.9,1114.5 2162.6,1111.8 2169.3,1110.7 C2177,1109.4 2188.4,1109.5 2195,1110.7 C2199.3,1111.5 2202.3,1114.6 2205.3,1114.6 C2207.7,1114.6 2209.6,1112.9 2211.8,1112" stroke="#008000"/>
<path d="M133.5,1235.4 C159.8,1234.5 185,1233.2 212.5,1232.7 C242.4,1232.2 286.3,1235.9 306.1,1232.7 C315.6,1231.1 320,1226 326.7,1225.8 C332.9,1225.6 340.6,1228.3 344.6,1230.8 C347.3,1232.4 347.2,1234.9 350.1,1236.8 C355.5,1240.4 368.4,1243.4 377.6,1246.4 C386.7,1249.4 396,1251.7 405.1,1254.7 C414.3,1257.7 423.3,1261.8 432.6,1264.3 C441.7,1266.8 451,1267.7 460.1,1269.8 C469.3,1271.9 478.4,1274.4 487.6,1276.7 C496.8,1279 505.9,1282.6 515.1,1283.6 C524.2,1284.6 533.4,1283.5 542.6,1283 C551.8,1282.5 560.1,1281.7 570.2,1280.3 C582.6,1278.5 597.7,1275.7 611.4,1272.6 C625.2,1269.5 638.8,1264.4 652.7,1261.6 C666.4,1258.9 682.2,1258.7 694,1256.1 C703.1,1254.1 711,1250.7 717.6,1248.7 C722.4,1247.3 727,1247.8 729.9,1245.2 C732.9,1242.6 732.4,1234.3 735.1,1232.9 C737.4,1231.7 741.6,1233.1 743.9,1234.7 C746.4,1236.4 747.4,1239.9 749.2,1243.5 C752,1248.9 754.7,1258.7 758,1264.6 C760.7,1269.4 764,1273.4 766.7,1276.9 C768.9,1279.7 771.1,1284.4 772.9,1284 C775.5,1283.5 776.8,1271.4 779,1265 C781.2,1258.4 782.4,1248.6 786.1,1245.2 C788.7,1242.8 792.6,1242.1 795.7,1242.6 C799,1243.1 802.8,1246.3 805.4,1248.7 C807.7,1250.8 809.2,1252.9 810.7,1255.8 C812.6,1259.6 813.4,1269.7 815.1,1269.8 C816.9,1269.9 818.5,1257.6 821.2,1254 C823.2,1251.4 825,1250.1 828.2,1248.7 C833.2,1246.5 841.8,1245.4 849.3,1244.4 C857.6,1243.3 863.6,1243.2 875.7,1242.6 C901.8,1241.4 956,1240.2 1000,1239.6 C1050,1238.9 1121.3,1238.1 1160,1239 C1182.1,1239.5 1200.2,1239.6 1211.9,1241.6 C1218.1,1242.7 1220.9,1246.3 1225.7,1245.8 C1231.4,1245.2 1236.5,1237.8 1243.5,1236.3 C1252,1234.4 1265,1237.3 1273.8,1237.9 C1280.5,1238.3 1286.5,1239.5 1291.7,1239.2 C1295.8,1238.9 1298.1,1237.2 1302.7,1237 C1310.3,1236.6 1323.6,1240 1333,1239.8 C1341.3,1239.6 1347.3,1237.1 1356.3,1236.5 C1368.6,1235.7 1388.1,1236.2 1400.3,1236.8 C1408.9,1237.2 1415.7,1237.1 1422.4,1238.8 C1428.4,1240.3 1434.9,1242.3 1438.9,1245.8 C1442.4,1248.9 1444,1252.1 1446,1258 C1450.2,1270.4 1451.5,1298.1 1453.9,1319.3 C1456.5,1341.9 1458.9,1367 1460.9,1389.6 C1462.8,1410.5 1464.1,1433.7 1465.6,1450 C1466.6,1461.1 1467.6,1470.5 1468.5,1478 C1469.1,1483.1 1469.7,1490.8 1470.4,1490.8 C1471.2,1490.8 1472.1,1483.4 1473,1478 C1474.5,1468.7 1476,1455.6 1477.3,1440 C1479.3,1415.1 1479.8,1367 1482,1342.7 C1483.3,1328 1484.5,1318 1486.7,1307.6 C1488.6,1298.9 1490.5,1290.6 1493.7,1284.2 C1496.3,1279 1499.4,1272.4 1503,1271.3 C1505.8,1270.4 1509.3,1272.4 1512.4,1274.8 C1517.3,1278.7 1520.9,1293.2 1526.5,1295.9 C1530.7,1297.9 1536.8,1296 1540.5,1294.7 C1543.4,1293.7 1544.6,1290.4 1547.5,1290 C1551.3,1289.5 1557.1,1294.8 1561.6,1294.7 C1565.7,1294.6 1569.4,1292.4 1573.3,1290 C1578.1,1287 1582.2,1281.2 1587.4,1277.2 C1593,1272.9 1599.6,1268.3 1606.1,1265.5 C1612.1,1262.9 1619.8,1259.8 1624.8,1260.8 C1628.7,1261.6 1631.7,1263.6 1634.2,1267.8 C1639.4,1276.7 1638.6,1305 1641.2,1319.3 C1643.1,1329.7 1645.1,1346 1647.1,1346 C1649,1346 1651.2,1328.7 1652.9,1319.3 C1654.8,1309 1654.1,1292.7 1657.6,1286.5 C1659.4,1283.3 1662,1282.9 1664.6,1280.7 C1667.8,1278 1672.3,1270.8 1675.2,1271.3 C1678.2,1271.8 1680.4,1278.3 1682.2,1284.2 C1685.5,1294.9 1684.9,1331.8 1687.3,1332 C1688.7,1332.1 1690.4,1315.6 1692.4,1315.6 C1695.1,1315.6 1699.2,1344.7 1702.4,1344.6 C1706.4,1344.4 1708.2,1307 1713.8,1299.4 C1716.5,1295.7 1719.8,1294.1 1723.2,1293.6 C1726.8,1293.1 1731.6,1297.9 1734.9,1297.1 C1738.2,1296.3 1740.5,1288.4 1743.1,1288.9 C1747.5,1289.8 1750.5,1318.4 1755.4,1319.3 C1759.1,1320 1764.1,1305.4 1768,1305.5 C1771.6,1305.6 1775.7,1312.7 1778.1,1318.1 C1781.4,1325.3 1781.5,1338.1 1782.9,1346.4 C1784,1352.8 1784.7,1356.4 1785.7,1363.5 C1787.3,1375 1786.7,1401.6 1790.7,1408.9 C1792.4,1412 1795.3,1410.9 1797,1413.9 C1800.8,1420.4 1801.6,1438.9 1803.3,1451.7 C1805,1464.9 1805.8,1492.1 1807.1,1492.1 C1808.7,1492.1 1810.5,1450 1812.1,1426.5 C1813.9,1399.3 1814.3,1360 1817.2,1338.3 C1818.9,1325.5 1821.4,1308.1 1823.5,1308 C1825.1,1307.9 1827.1,1317.9 1828.5,1325.7 C1831.1,1340.2 1831.9,1368.1 1833.6,1388.7 C1835.2,1408.4 1835.6,1446.4 1838.6,1446.7 C1841.1,1446.9 1845.7,1408.8 1848.7,1408.9 C1851.6,1409 1853.9,1431.9 1856.3,1446.7 C1859.6,1467.3 1862.1,1521.1 1865.1,1521.1 C1868,1521.1 1871.4,1474.7 1873.9,1451.7 C1876.4,1428.9 1877,1384.3 1880.2,1383.7 C1881.3,1383.5 1882.9,1387.5 1884,1391.2 C1886.8,1400.3 1888,1440.4 1890.3,1440.4 C1893,1440.4 1895.8,1393.1 1899.1,1371 C1902.1,1350.8 1904.1,1327.6 1909.2,1313 C1912.6,1303.3 1917.3,1297.1 1921.8,1290.3 C1925.8,1284.3 1931,1273.9 1934.4,1274 C1936.9,1274 1938.2,1282.5 1940.7,1282.8 C1943.3,1283.1 1946.2,1275.8 1949.6,1275.2 C1953.3,1274.6 1958.6,1281 1962.2,1280.3 C1965.6,1279.6 1967.6,1273.8 1970.9,1271.7 C1974,1269.7 1978.7,1266.6 1981.2,1267.8 C1984.2,1269.2 1984.7,1276.2 1986.4,1282 C1989,1290.7 1991.4,1315.4 1994.1,1315.5 C1996.6,1315.5 1997.8,1294.9 2001.8,1287.2 C2005.1,1280.8 2009.9,1274.9 2014.7,1271.7 C2018.6,1269.1 2023.6,1267.7 2027.6,1267.8 C2031.2,1267.9 2034.7,1269.1 2037.9,1271.7 C2042.7,1275.6 2047.3,1283.7 2050.8,1292.3 C2055.7,1304.3 2057.6,1338.5 2061.1,1338.7 C2063.6,1338.8 2066.2,1323.2 2068.8,1315.5 C2071.4,1307.8 2073.8,1292.4 2076.5,1292.3 C2079,1292.2 2081.1,1306.7 2084.3,1312.9 C2087.2,1318.6 2090.2,1327.2 2094.6,1328.4 C2098.8,1329.5 2104.3,1323.8 2110,1320.6 C2117.6,1316.4 2127.6,1309.7 2135.8,1305.2 C2143,1301.3 2149.9,1297 2156.4,1294.9 C2161.8,1293.1 2166.2,1292.8 2171.9,1292.3 C2178.8,1291.7 2188.9,1291.2 2195,1292.3 C2199.2,1293.1 2202.3,1296.5 2205.3,1296.2 C2207.8,1296 2209.6,1293.6 2211.8,1292.3" stroke="#000080"/>
</g>
<line x1="514.5" y1="355.5" x2="544.4" y2="1313.8" stroke="#000" stroke-width="3.4" stroke-dasharray="19.8 6.8 8.4 7.3 8.4 6.93"/>
<rect x="133.3" y="41" width="2079.4" height="1528" fill="none" stroke="#111" stroke-width="2.8"/>
<path d="M281.7,1569 V1553 M430.3,1569 V1537 M578.8,1569 V1553 M727.3,1569 V1537 M875.9,1569 V1553 M1024.4,1569 V1537 M1172.9,1569 V1553 M1321.5,1569 V1537 M1470,1569 V1553 M1618.5,1569 V1537 M1767.1,1569 V1553 M1915.6,1569 V1537 M2064.2,1569 V1553" stroke="#111" stroke-width="2.8" fill="none"/>
<text x="133.2" y="1660.5" font-size="76" text-anchor="middle">4000</text>
<text x="430.3" y="1660.5" font-size="76" text-anchor="middle">3500</text>
<text x="727.3" y="1660.5" font-size="76" text-anchor="middle">3000</text>
<text x="1024.4" y="1660.5" font-size="76" text-anchor="middle">2500</text>
<text x="1321.5" y="1660.5" font-size="76" text-anchor="middle">2000</text>
<text x="1618.5" y="1660.5" font-size="76" text-anchor="middle">1500</text>
<text x="1915.6" y="1660.5" font-size="76" text-anchor="middle">1000</text>
<text x="2212.7" y="1660.5" font-size="76" text-anchor="middle">500</text>
<text transform="translate(898.6,1753.3) scale(0.995,1.0)" font-size="75.5">Wavenumbers(cm</text>
<text transform="translate(1437.9,1708.1) scale(1.147,1.25)" font-size="41">−</text>
<text transform="translate(1465.6,1705.1) scale(0.753,1.065)" font-size="41">1</text>
<text transform="translate(1483.9,1752) scale(0.97,0.932)" font-size="75.5">)</text>
<text transform="translate(88.9,795.5) rotate(-90)" font-size="77" text-anchor="middle">Transmittance(%)</text>
<text x="166.5" y="229.7" font-size="75">BVOH</text>
<text x="166.5" y="429.2" font-size="75">PLA</text>
<text x="166" y="736.8" font-size="75">PLAB<tspan dy="29">1</tspan></text>
<text x="170" y="950.7" font-size="75">PLAB<tspan dy="29">3</tspan></text>
<text x="172.8" y="1137.8" font-size="75">PLAB<tspan dy="29">5</tspan></text>
<text x="172.8" y="1326.2" font-size="75">PLAB<tspan dy="29">10</tspan></text>
<text transform="translate(319,317.5) scale(0.976,1.005)" font-size="62">3310</text>
<text transform="translate(537.2,351.4) scale(0.974,0.973)" font-size="62">2918</text>
<text transform="translate(910.6,314.5) scale(0.952,1.017)" font-size="62">2851</text>
<text transform="translate(1407.8,320) scale(0.934,0.995)" font-size="62">1657</text>
<text transform="translate(1529.3,351.1) scale(0.961,0.971)" font-size="62">1249</text>
<text transform="translate(1273.6,571.5) scale(0.944,1.01)" font-size="62">1748</text>
<text transform="translate(1494.9,578.4) scale(0.939,0.971)" font-size="62">1452</text>
<text transform="translate(1655.2,564.1) scale(0.939,0.971)" font-size="62">1358</text>
<text transform="translate(1620.6,636.4) scale(0.955,0.968)" font-size="62">1180</text>
<text transform="translate(1927.4,604.1) scale(0.926,0.971)" font-size="62">1081</text>
<line x1="447.7" y1="296.7" x2="500.2" y2="281.9" stroke="#000" stroke-width="2.2"/><polygon points="535.8,271.9 499.3,293.6 493.4,272.4" fill="#000"/>
<line x1="672" y1="339.3" x2="736.6" y2="316.6" stroke="#000" stroke-width="2.2"/><polygon points="771.5,304.3 736.5,328.3 729.2,307.5" fill="#000"/>
<line x1="903.6" y1="297.9" x2="853.1" y2="269" stroke="#000" stroke-width="2.2"/><polygon points="821,250.6 862,261.4 851.1,280.5" fill="#000"/>
<line x1="1496.8" y1="273" x2="1513.6" y2="236.1" stroke="#000" stroke-width="2.2"/><polygon points="1528.9,202.4 1521.9,244.3 1501.9,235.2" fill="#000"/>
<line x1="1651.7" y1="335.4" x2="1729.3" y2="318.5" stroke="#000" stroke-width="2.2"/><polygon points="1765.5,310.6 1727.8,330.1 1723.1,308.6" fill="#000"/>
<line x1="1387.6" y1="582.5" x2="1439" y2="630.4" stroke="#000" stroke-width="2.2"/><polygon points="1466,655.7 1428.5,635.8 1443.5,619.7" fill="#000"/>
<line x1="1579.1" y1="530.2" x2="1611.3" y2="498.4" stroke="#000" stroke-width="2.2"/><polygon points="1637.6,472.4 1616.2,509 1600.7,493.4" fill="#000"/>
<line x1="1750.4" y1="519.1" x2="1731.1" y2="501.6" stroke="#000" stroke-width="2.2"/><polygon points="1703.7,476.8 1741.5,496.2 1726.7,512.5" fill="#000"/>
<line x1="1737" y1="621.4" x2="1771.2" y2="646.3" stroke="#000" stroke-width="2.2"/><polygon points="1801.1,668.1 1761.5,652.8 1774.4,635.1" fill="#000"/>
<line x1="1961.3" y1="612.5" x2="1900.1" y2="682.5" stroke="#000" stroke-width="2.2"/><polygon points="1875.7,710.3 1894.4,672.2 1911,686.7" fill="#000"/>
</svg></body></html>
